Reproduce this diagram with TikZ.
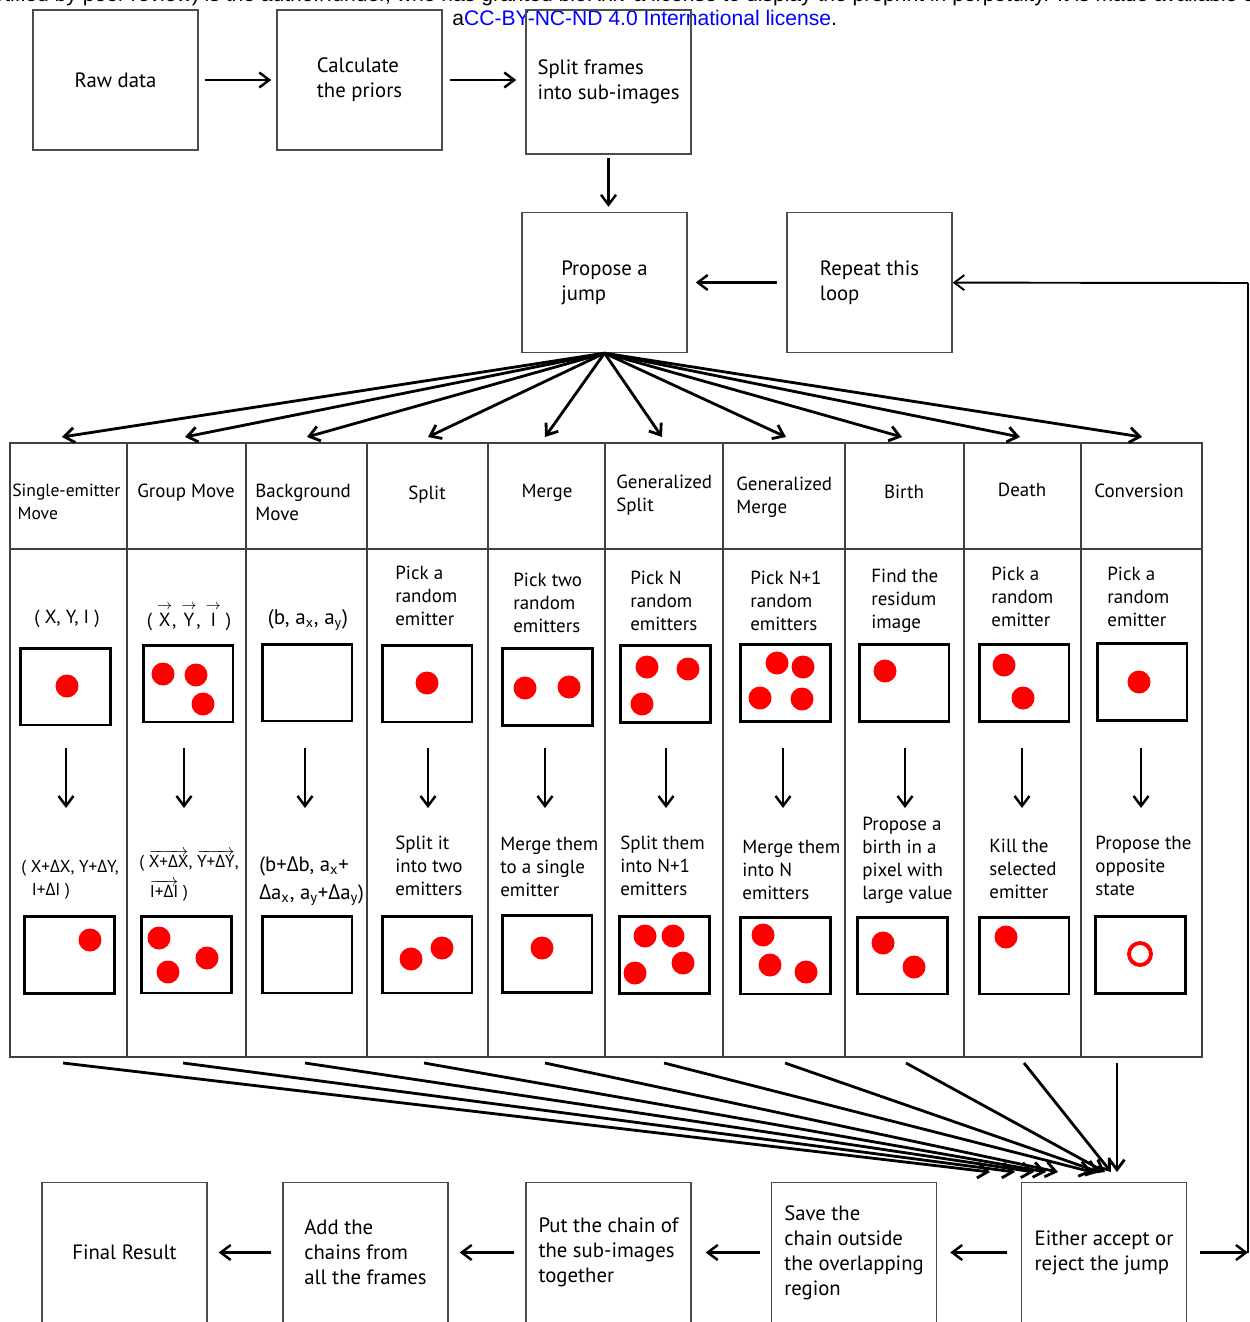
\documentclass[tikz,border=0pt]{standalone}
\usepackage{fontspec}
\setmainfont{PT Sans}
\newfontfamily\grkfont{Open Sans}
\newfontfamily\licfont{Liberation Sans}
\usetikzlibrary{positioning, arrows.meta}
\newcommand{\dlt}{{\grkfont Δ}}
\newcommand{\vecarr}[1]{$\overrightarrow{\mbox{#1}}$}
\newcommand{\vecsym}[1]{${\mathop{\mbox{#1}}\limits^{\rightarrow}}$}

\begin{document}
\begin{tikzpicture}[x=0.02cm, y=-0.02cm,
  box/.style={draw=black!70, line width=0.8pt, minimum width=33mm, minimum height=28mm,
    align=left, font=\fontsize{11.8}{14.2}\selectfont},
  cell/.style={align=left, inner sep=0pt, font=\fontsize{10.8}{13}\selectfont},
  frame/.style={draw, line width=1.7pt, minimum width=18mm, minimum height=15.4mm, inner sep=0pt},
  emitter/.style={fill=red},
  >={Straight Barb[length=2mm,width=3mm]},
  flow/.style={->, line width=1.4pt},
  fan/.style={->, line width=1.6pt}]

\useasboundingbox (0,0) rectangle (1250,1322);

% licence lines of the page
\node[anchor=base west, inner sep=0pt, font=\licfont\fontsize{12}{14}\selectfont] (lic1) at (-3,1.5)
  {rtified by peer review) is the author/funder, who has granted bioRxiv a license to display the preprint in perpetuity. It is made available under};
\node[anchor=base west, inner sep=0pt, font=\licfont\fontsize{12}{14}\selectfont] (lic2) at (452,25)
  {a\textcolor{blue}{CC-BY-NC-ND 4.0 International license}.};

% top row
\node[box] (raw) at (115.5,80) {Raw data};
\node[box] (prior) at (359.5,80) {Calculate\\the priors};
\node[box, minimum height=28.8mm] (split) at (608.5,82) {Split frames\\into sub-images};
\node[box] (propose) at (604.5,282.5) {Propose a\\jump};
\node[box] (again) at (869.5,282.5) {Repeat this\\loop};

\draw[flow, shorten <=1.2mm, shorten >=1mm] (raw) -- (prior);
\draw[flow, shorten <=1.4mm, shorten >=1.8mm] (prior.east) -- (prior.east -| split.west);
\draw[flow, shorten <=0.6mm, shorten >=1mm] (split.south) -- (split.south |- propose.north);
\draw[flow, shorten <=1.8mm, shorten >=1.6mm] (again) -- (propose);

% table
\begin{scope}[draw=black!75, line width=0.8pt]
\draw (10,443) rectangle (1202,1057);
\draw (10,549) -- (1202,549);
\foreach \x in {127,246,367,488,605,723,845,964,1081}
  \draw (\x,443) -- (\x,1057);
\end{scope}

\foreach \x [count=\i] in {62,185,307,428,545,662,786,902,1020,1142} {
  \coordinate (in\i) at (\x,437);
  \draw[fan] (propose.south) -- (in\i);
}

% headers
\node[cell, anchor=north west, font=\fontsize{10}{13}\selectfont] (h1) at (12,484) {Single-emitter\\\hspace*{3pt}Move};
\node[cell, anchor=north] (h2) at (186,484) {Group Move};
\node[cell, anchor=north west] (h3) at (255,484) {Background\\Move};
\node[cell, anchor=north] (h4) at (427,486) {Split};
\node[cell, anchor=north] (h5) at (547,484) {Merge};
\node[cell, anchor=north west] (h6) at (616,475) {Generalized\\Split};
\node[cell, anchor=north west] (h7) at (736,477) {Generalized\\Merge};
\node[cell, anchor=north] (h8) at (904,485) {Birth};
\node[cell, anchor=north] (h9) at (1022,483) {Death};
\node[cell, anchor=north] (h10) at (1139,484) {Conversion};

% before the jump
\node[cell, anchor=base] (a1) at (67,623) {( X, Y, I )};
\node[cell, anchor=base] (a2) at (189,626) {( \vecsym{X}, \vecsym{Y}, \vecsym{I} )};
\node[cell, anchor=base, font=\fontsize{12}{14}\selectfont] (a3) at (308,624)
  {(b, a\textsubscript{x}, a\textsubscript{y})};
\node[cell, anchor=north west] (a4) at (395,566) {Pick a\\random\\emitter};
\node[cell, anchor=north west] (a5) at (513,573) {Pick two\\random\\emitters};
\node[cell, anchor=north west] (a6) at (630,571) {Pick N\\random\\emitters};
\node[cell, anchor=north west] (a7) at (750,571) {Pick N+1\\random\\emitters};
\node[cell, anchor=north west] (a8) at (871,569) {Find the\\residum\\image};
\node[cell, anchor=north west] (a9) at (991,567) {Pick a\\random\\emitter};
\node[cell, anchor=north west] (a10) at (1107,567) {Pick a\\random\\emitter};

\foreach \x/\y [count=\i] in {65.5/686.5,188/683.5,307/682.5,427/683.5,547.5/687,
    665.5/684,785.5/683,904/683,1024/683,1142/682}
  \node[frame] (f\i) at (\x,\y) {};

\foreach \x [count=\i] in {66,184,305,428,545,666,783,905,1022,1141} {
  \coordinate (up\i) at (\x,748);
  \coordinate (dn\i) at (\x,808);
  \draw[flow] (up\i) -- (dn\i);
}

% after the jump
\node[cell, anchor=north west, font=\fontsize{9.8}{13}\selectfont] (b1) at (21,860)
  {( X+\dlt X, Y+\dlt Y,\\\hspace*{6pt}I+\dlt I )};
\node[cell, anchor=north west, font=\fontsize{9.8}{17}\selectfont] (b2) at (139,850)
  {( \vecarr{X+\dlt X}, \vecarr{Y+\dlt Y},\\\hspace*{6pt}\vecarr{I+\dlt I} )};
\node[cell, anchor=north west, font=\fontsize{11.8}{16}\selectfont] (b3) at (259,856)
  {(b+\dlt b, a\textsubscript{x}+\\\dlt a\textsubscript{x}, a\textsubscript{y}+\dlt a\textsubscript{y})};
\node[cell, anchor=north west] (b4) at (395,836) {Split it\\into two\\emitters};
\node[cell, anchor=north west] (b5) at (500,837) {Merge them\\to a single\\emitter};
\node[cell, anchor=north west] (b6) at (620,836) {Split them\\into N+1\\emitters};
\node[cell, anchor=north west] (b7) at (742,840) {Merge them\\into N\\emitters};
\node[cell, anchor=north west] (b8) at (862,817) {Propose a\\birth in a\\pixel with\\large value};
\node[cell, anchor=north west] (b9) at (989,839) {Kill the\\selected\\emitter};
\node[cell, anchor=north west] (b10) at (1095,836) {Propose the\\opposite\\state};

\foreach \x/\y [count=\i] in {69.5/955,186.5/954.5,307/954.5,427/954.5,547/954,
    664.5/955,785.5/955.5,902.5/955.5,1024/955.5,1140.5/955}
  \node[frame] (g\i) at (\x,\y) {};

% emitters
\foreach \p in {(67,686),(163,674),(196,675),(203,704),(427,683),(525,688),(569,687),
    (647,667),(688,669),(642,704),(777,663),(803,667),(760,698),(802,699),(885,671),
    (1004,665),(1023,698),(1139,682),
    (90,940),(159,938),(168,972),(207,958),(411,959),(442,948),(542,948),
    (645,936),(673,936),(683,963),(635,973),(763,935),(770,965),(806,972),
    (883,943),(914,967),(1006,937)}
  \fill[emitter] \p circle (2.3mm);
\draw[red, line width=2.2pt] (1140,954) circle (2.2mm);

% bottom row
\node[box] (final) at (124.5,1252.5) {Final Result};
\node[box] (chains) at (365.5,1252.5) {Add the\\chains from\\all the frames};
\node[box] (together) at (608.5,1252.5) {Put the chain of\\the sub-images\\together};
\node[box] (save) at (854,1252.5) {Save the\\chain outside\\the overlapping\\region};
\node[box] (accept) at (1104,1252.5) {Either accept or\\reject the jump};

\foreach \x/\e [count=\i] in {63/990,183/1015,305/1034,424/1046,545/1058,664/1092,
    785/1099,906/1105,1024/1111,1117/1117} {
  \coordinate (out\i) at (\x,1063);
  \coordinate (end\i) at (\e,1172);
  \draw[fan] (out\i) -- (end\i);
}

\draw[flow, shorten <=2.8mm, shorten >=2.6mm] (accept) -- (save);
\draw[flow, shorten <=2.2mm, shorten >=2.8mm] (save) -- (together);
\draw[flow, shorten <=2.2mm, shorten >=2.2mm] (together) -- (chains);
\draw[flow, shorten <=2.2mm, shorten >=2.2mm] (chains) -- (final);

% back to the loop
\coordinate (loopB) at (1248,1252.5);
\coordinate (loopT) at (1248,283);
\draw[flow, shorten <=2.6mm] (accept) -- (loopB);
\draw[line width=0.9pt] (loopB) -- (loopT);
\draw[flow, line width=1.1pt] (loopT) -- (again);

\end{tikzpicture}
\end{document}
